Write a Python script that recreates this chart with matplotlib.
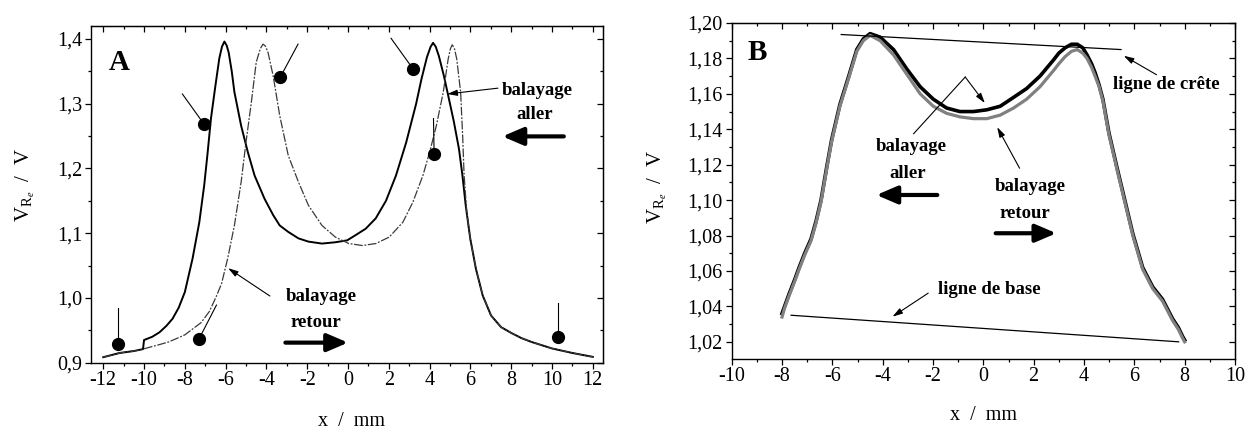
import matplotlib
matplotlib.use("Agg")
import matplotlib.pyplot as plt
from matplotlib.ticker import MultipleLocator, FuncFormatter

plt.rcParams['font.family'] = ['Liberation Serif', 'DejaVu Serif']
plt.rcParams['mathtext.fontset'] = 'custom'
plt.rcParams['mathtext.rm'] = 'Liberation Serif'
plt.rcParams['mathtext.it'] = 'Liberation Serif:italic'
plt.rcParams['axes.unicode_minus'] = False

# ---------------- Panel A data ----------------
a_aller_x = [-12.0, -11.2, -10.5, -10.05, -10.0, -9.6, -9.24, -8.9, -8.6, -8.3, -8.0, -7.62, -7.29,
             -7.05, -6.88, -6.72, -6.5, -6.31, -6.18, -6.06, -5.95, -5.85, -5.7, -5.57, -5.24, -4.91,
             -4.58, -4.09, -3.67, -3.35, -2.93, -2.43, -1.94, -1.28, -0.62, -0.04, 0.37, 0.87, 1.36,
             1.86, 2.35, 2.85, 3.34, 3.6, 3.87, 4.05, 4.17, 4.3, 4.45, 4.7, 4.95, 5.19, 5.44, 5.61,
             5.77, 5.99, 6.27, 6.6, 7.01, 7.5, 8.0, 8.5, 9.0, 10.0, 11.0, 12.0]
a_aller_y = [0.9085, 0.915, 0.918, 0.921, 0.935, 0.940, 0.947, 0.957, 0.968, 0.985, 1.009, 1.061, 1.117,
             1.174, 1.225, 1.277, 1.328, 1.370, 1.388, 1.396, 1.390, 1.379, 1.350, 1.318, 1.266, 1.225,
             1.189, 1.153, 1.128, 1.112, 1.102, 1.092, 1.087, 1.084, 1.086, 1.089, 1.097, 1.107, 1.123,
             1.150, 1.189, 1.240, 1.300, 1.338, 1.372, 1.388, 1.394, 1.388, 1.374, 1.343, 1.307, 1.272,
             1.230, 1.189, 1.143, 1.092, 1.045, 1.004, 0.973, 0.955, 0.946, 0.938, 0.932, 0.922, 0.915,
             0.909]

a_retour_x = [-12.0, -11.2, -10.5, -10.05, -9.6, -9.24, -8.8, -8.43, -8.0, -7.62, -7.2, -6.8, -6.49,
              -6.2, -5.9, -5.57, -5.24, -5.0, -4.74, -4.5, -4.3, -4.17, -4.05, -3.92, -3.67, -3.35,
              -2.93, -2.43, -1.94, -1.28, -0.62, 0.04, 0.7, 1.36, 2.02, 2.69, 3.18, 3.67, 4.0, 4.33,
              4.67, 4.91, 5.02, 5.11, 5.22, 5.33, 5.52, 5.62, 5.69, 5.82, 5.99, 6.27, 6.6, 7.01, 7.5,
              8.0, 8.5, 9.0, 10.0, 11.0, 12.0]
a_retour_y = [0.9085, 0.915, 0.918, 0.921, 0.925, 0.928, 0.932, 0.937, 0.943, 0.952, 0.962, 0.979, 1.0,
              1.022, 1.061, 1.112, 1.179, 1.241, 1.302, 1.364, 1.385, 1.392, 1.389, 1.379, 1.343, 1.282,
              1.220, 1.179, 1.143, 1.112, 1.094, 1.084, 1.081, 1.084, 1.094, 1.117, 1.148, 1.189, 1.225,
              1.266, 1.318, 1.369, 1.385, 1.391, 1.385, 1.369, 1.318, 1.250, 1.190, 1.133, 1.092, 1.045,
              1.004, 0.973, 0.955, 0.946, 0.938, 0.932, 0.922, 0.915, 0.909]

# pins (dot, line end) in panel A
a_pin_dot_x = [-11.3, -7.3, -7.05, -3.32, 3.18, 4.22, 10.29]
a_pin_dot_y = [0.929, 0.937, 1.268, 1.341, 1.354, 1.223, 0.939]
a_pin_end_x = [-11.3, -6.45, -8.12, -2.45, 2.11, 4.19, 10.29]
a_pin_end_y = [0.985, 0.989, 1.315, 1.392, 1.401, 1.277, 0.992]

# ---------------- Panel B data ----------------
b_x = [-8.0, -7.9, -7.72, -7.5, -7.32, -7.1, -6.85, -6.65, -6.45, -6.22, -6.03, -5.7, -5.37, -5.03,
       -4.77, -4.5, -4.1, -3.57, -3.04, -2.51, -1.99, -1.46, -0.93, -0.39, 0.14, 0.67, 1.2, 1.72, 2.25,
       2.78, 3.0, 3.25, 3.5, 3.73, 3.95, 4.12, 4.3, 4.44, 4.6, 4.75, 4.99, 5.3, 5.62, 5.94, 6.33, 6.73,
       7.12, 7.52, 7.75, 7.92, 8.0]
b_aller_y = [1.036, 1.040, 1.047, 1.055, 1.062, 1.070, 1.078, 1.088, 1.100, 1.119, 1.134, 1.154, 1.169,
             1.185, 1.191, 1.194, 1.192, 1.185, 1.174, 1.164, 1.157, 1.152, 1.150, 1.150, 1.151, 1.153,
             1.158, 1.163, 1.170, 1.179, 1.183, 1.186, 1.188, 1.188, 1.186, 1.182, 1.177, 1.172, 1.165,
             1.157, 1.138, 1.119, 1.100, 1.081, 1.062, 1.051, 1.044, 1.033, 1.028, 1.023, 1.021]
b_retour_y = [1.034, 1.039, 1.046, 1.054, 1.061, 1.069, 1.077, 1.087, 1.099, 1.118, 1.133, 1.153, 1.168,
              1.184, 1.190, 1.193, 1.190, 1.182, 1.171, 1.160, 1.153, 1.149, 1.147, 1.146, 1.146, 1.148,
              1.152, 1.157, 1.164, 1.173, 1.177, 1.181, 1.184, 1.185, 1.183, 1.180, 1.175, 1.170, 1.164,
              1.156, 1.137, 1.118, 1.099, 1.080, 1.061, 1.050, 1.043, 1.032, 1.027, 1.022, 1.020]

crete_x = [-5.65, 5.47]
crete_y = [1.1935, 1.185]
base_x = [-7.64, 7.76]
base_y = [1.035, 1.020]

W, H = 1254, 430
fig = plt.figure(figsize=(W / 100, H / 100), dpi=100)

axA = fig.add_axes([91 / W, 1 - 362.7 / H, (603 - 91) / W, (362.7 - 26) / H])
axB = fig.add_axes([731.7 / W, 1 - 359 / H, (1235 - 731.7) / W, (359 - 23) / H])

TICK_FS = 14.5
ANN_FS = 13.5
LETTER_FS = 21


def style_axes(ax):
    for s in ax.spines.values():
        s.set_linewidth(1.0)
    ax.tick_params(axis='both', which='both', labelsize=TICK_FS, width=0.9)
    ax.tick_params(axis='both', which='major', length=4.5)
    ax.tick_params(axis='both', which='minor', length=2.5)
    ax.tick_params(axis='x', which='both', direction='out', bottom=True, top=False, pad=1.5)
    ax.tick_params(axis='y', which='both', direction='out', left=True, right=False, pad=2)
    sec_x = ax.secondary_xaxis('top')
    sec_y = ax.secondary_yaxis('right')
    return sec_x, sec_y


def thin_arrow(ax, tail, head):
    ax.annotate('', xy=head, xytext=tail,
                arrowprops=dict(arrowstyle='-|>,head_length=0.6,head_width=0.18', lw=0.8,
                                color='k', shrinkA=0, shrinkB=0))


def thick_arrow(ax, tail, head):
    ax.annotate('', xy=head, xytext=tail,
                arrowprops=dict(arrowstyle='-|>,head_length=0.7,head_width=0.3', lw=3.0,
                                color='k', shrinkA=0, shrinkB=0, mutation_scale=18))


def finish_secondary(sx, sy, xmaj, xmin, ymaj, ymin):
    sx.xaxis.set_major_locator(MultipleLocator(xmaj))
    sx.xaxis.set_minor_locator(MultipleLocator(xmin))
    sy.yaxis.set_major_locator(MultipleLocator(ymaj))
    sy.yaxis.set_minor_locator(MultipleLocator(ymin))
    for sec in (sx, sy):
        sec.tick_params(which='both', direction='in', width=0.9)
        sec.tick_params(which='major', length=4.5)
        sec.tick_params(which='minor', length=2.5)
    sx.set_xticklabels([])
    sy.set_yticklabels([])


# ---------------- Panel A ----------------
axA.plot(a_aller_x, a_aller_y, color='k', lw=1.4, solid_joinstyle='round')
axA.plot(a_retour_x, a_retour_y, color='#3a3a3a', lw=0.9, linestyle=(0, (7, 1.3, 1.5, 1.3)))
for dx, dy, ex, ey in zip(a_pin_dot_x, a_pin_dot_y, a_pin_end_x, a_pin_end_y):
    axA.plot([dx, ex], [dy, ey], color='k', lw=0.8)
axA.plot(a_pin_dot_x, a_pin_dot_y, 'o', color='k', markersize=8.5, linestyle='none')

axA.set_xlim(-12.6, 12.5)
axA.set_ylim(0.9, 1.42)
axA.xaxis.set_major_locator(MultipleLocator(2))
axA.xaxis.set_minor_locator(MultipleLocator(1))
axA.yaxis.set_major_locator(MultipleLocator(0.1))
axA.yaxis.set_minor_locator(MultipleLocator(0.05))
axA.xaxis.set_major_formatter(FuncFormatter(lambda v, p: '%d' % round(v)))
axA.yaxis.set_major_formatter(FuncFormatter(lambda v, p: ('%.1f' % v).replace('.', ',')))
sx, sy = style_axes(axA)
finish_secondary(sx, sy, 2, 1, 0.1, 0.05)

axA.text(-11.2, 1.363, 'A', fontsize=LETTER_FS, fontweight='bold', ha='center', va='center')
axA.text(9.3, 1.321, 'balayage', fontsize=ANN_FS, fontweight='bold', ha='center', va='center')
axA.text(9.13, 1.283, 'aller', fontsize=ANN_FS, fontweight='bold', ha='center', va='center')
thin_arrow(axA, (7.35, 1.324), (4.86, 1.315))
thick_arrow(axA, (10.58, 1.2495), (7.57, 1.2495))
axA.text(-1.32, 1.002, 'balayage', fontsize=ANN_FS, fontweight='bold', ha='center', va='center')
axA.text(-1.59, 0.962, 'retour', fontsize=ANN_FS, fontweight='bold', ha='center', va='center')
thin_arrow(axA, (-3.83, 1.003), (-5.88, 1.046))
thick_arrow(axA, (-3.07, 0.931), (0.0, 0.931))

# ---------------- Panel B ----------------
axB.plot(b_x, b_aller_y, color='k', lw=2.6)
axB.plot(b_x, b_retour_y, color='#808080', lw=2.3)
axB.plot(crete_x, crete_y, color='k', lw=0.9)
axB.plot(base_x, base_y, color='k', lw=0.9)

axB.set_xlim(-10, 10)
axB.set_ylim(1.0103, 1.20)
axB.xaxis.set_major_locator(MultipleLocator(2))
axB.xaxis.set_minor_locator(MultipleLocator(1))
axB.yaxis.set_major_locator(MultipleLocator(0.02))
axB.yaxis.set_minor_locator(MultipleLocator(0.01))
axB.xaxis.set_major_formatter(FuncFormatter(lambda v, p: '%d' % round(v)))
axB.yaxis.set_major_formatter(FuncFormatter(lambda v, p: ('%.2f' % v).replace('.', ',')))
sx, sy = style_axes(axB)
finish_secondary(sx, sy, 2, 1, 0.02, 0.01)

axB.text(-9.0, 1.1835, 'B', fontsize=LETTER_FS, fontweight='bold', ha='center', va='center')
thin_arrow(axB, (6.88, 1.1708), (5.58, 1.1815))
axB.text(7.27, 1.165, 'ligne de crête', fontsize=ANN_FS, fontweight='bold', ha='center', va='center')
thin_arrow(axB, (-2.19, 1.0475), (-3.61, 1.0342))
axB.text(0.22, 1.0496, 'ligne de base', fontsize=ANN_FS, fontweight='bold', ha='center', va='center')
axB.text(-2.86, 1.1303, 'balayage', fontsize=ANN_FS, fontweight='bold', ha='center', va='center')
axB.text(-3.02, 1.1152, 'aller', fontsize=ANN_FS, fontweight='bold', ha='center', va='center')
axB.plot([-2.77, -0.72], [1.1375, 1.1695], color='k', lw=0.8)
thin_arrow(axB, (-0.72, 1.1695), (0.06, 1.1548))
thick_arrow(axB, (-1.83, 1.1029), (-4.25, 1.1029))
axB.text(1.86, 1.1077, 'balayage', fontsize=ANN_FS, fontweight='bold', ha='center', va='center')
axB.text(1.64, 1.0926, 'retour', fontsize=ANN_FS, fontweight='bold', ha='center', va='center')
thin_arrow(axB, (1.44, 1.118), (0.55, 1.1412))
thick_arrow(axB, (0.49, 1.0813), (2.9, 1.0813))

# axis labels
ylab = r'V$_{\mathregular{R}_{e}}$  /  V'
fig.text(25 / W, 1 - 185 / H, ylab, rotation=90, fontsize=TICK_FS + 0.5, ha='center', va='center')
fig.text(657 / W, 1 - 187 / H, ylab, rotation=90, fontsize=TICK_FS + 0.5, ha='center', va='center')
fig.text(352 / W, 1 - 421 / H, 'x  /  mm', fontsize=TICK_FS, ha='center', va='center')
fig.text(983 / W, 1 - 415 / H, 'x  /  mm', fontsize=TICK_FS, ha='center', va='center')

fig.savefig('out.png', dpi=100)
